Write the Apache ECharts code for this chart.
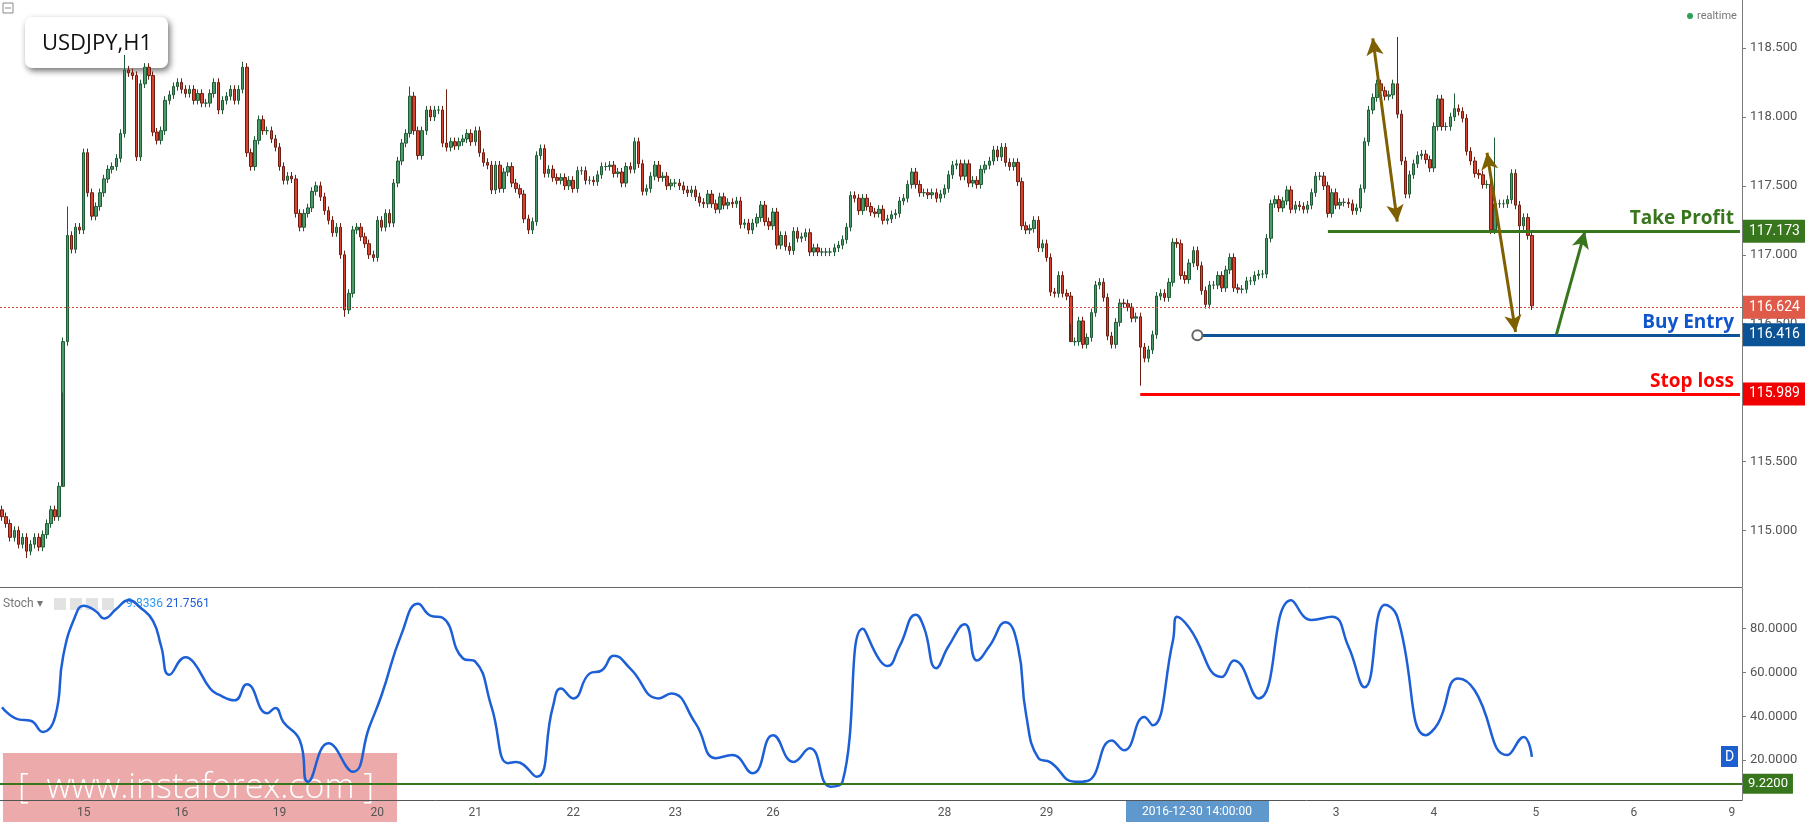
<!DOCTYPE html>
<html>
<head>
<meta charset="utf-8">
<title>USDJPY,H1</title>
<script src="https://cdn.jsdelivr.net/npm/echarts@6.0.0/dist/echarts.min.js"></script>
<style>
html,body{margin:0;padding:0;background:#fff;}
#main{width:1805px;height:822px;}
</style>
</head>
<body>
<div id="main"></div>
<script>
// hourly closes (candle opens = previous close)
var closes = [
115.1,115.05,114.95,115.0,114.9,114.95,114.85,114.9,114.95,114.88,114.97,115.05,115.15,115.1,115.32,
116.37,117.14,117.04,117.2,117.18,117.74,117.45,117.28,117.35,117.45,
117.55,117.62,117.64,117.7,117.88,118.34,118.32,118.3,117.71,118.24,
118.36,118.3,117.89,117.83,117.9,118.12,118.16,118.22,118.25,118.2,
118.17,118.2,118.12,118.17,118.1,118.1,118.17,118.25,118.05,118.12,
118.15,118.2,118.12,118.2,118.36,117.74,117.64,117.83,117.98,117.9,
117.9,117.84,117.78,117.64,117.54,117.57,117.55,117.3,117.2,117.3,
117.34,117.46,117.5,117.42,117.32,117.25,117.16,117.2,117.0,116.6,
116.72,117.18,117.2,117.13,117.08,117.0,116.98,117.25,117.2,117.3,
117.23,117.52,117.68,117.81,117.88,118.15,117.9,117.72,117.9,118.05,
118.0,118.05,118.05,117.81,117.78,117.82,117.79,117.82,117.84,117.88,
117.82,117.9,117.74,117.67,117.65,117.47,117.65,117.48,117.6,117.64,
117.52,117.48,117.44,117.26,117.18,117.24,117.72,117.77,117.59,117.62,
117.56,117.54,117.56,117.5,
117.54,117.48,117.61,117.61,117.54,117.54,117.53,117.58,117.64,117.64,
117.65,117.59,117.6,117.52,117.64,117.62,117.82,117.66,117.46,117.48,
117.57,117.65,117.56,117.57,117.5,117.52,117.52,117.5,117.47,117.45,
117.47,117.42,117.38,117.37,117.44,117.37,117.33,117.42,117.36,117.38,
117.37,117.39,117.22,117.23,117.18,117.23,117.27,117.36,117.24,117.21,
117.31,117.07,117.14,117.06,117.03,117.17,117.12,117.13,117.16,117.02,
117.05,117.02,117.02,117.02,117.02,117.05,117.07,117.11,117.2,117.43,
117.41,117.32,117.41,117.35,117.31,117.3,117.33,117.25,117.26,117.29,
117.3,117.39,117.41,
117.51,117.6,117.51,117.45,117.45,117.435,117.45,117.41,117.44,117.48,
117.58,117.65,117.66,117.57,117.66,117.52,117.54,117.51,117.62,117.65,
117.68,117.76,117.71,117.78,117.67,117.64,117.67,117.53,117.21,117.18,
117.19,117.25,117.05,117.08,116.98,116.73,116.72,116.85,116.72,116.7,
116.37,116.37,116.52,116.35,116.4,116.58,116.78,116.8,116.69,116.41,
116.35,116.51,116.65,116.645,116.62,116.54,116.55,116.33,116.25,116.31,
116.42,116.7,116.72,116.69,116.8,117.09,117.08,116.85,116.82,116.94,
117.03,116.92,116.74,116.64,116.78,116.78,116.85,116.76,116.89,116.98,
116.76,116.75,116.75,116.81,116.81,116.85,116.86,116.86,117.12,117.37,
117.4,117.34,117.39,117.47,117.33,117.36,117.35,117.33,117.36,117.45,
117.57,117.57,117.5,117.3,117.45,117.36,117.38,117.38,117.37,117.32,
117.34,117.48,117.82,118.05,118.14,118.24,118.19,118.15,118.16,118.24,
118.02,117.68,117.44,117.58,117.66,117.72,117.73,117.69,117.63,117.93,
118.13,117.93,117.93,118.0,118.06,118.04,117.99,117.75,117.68,117.59,
117.58,117.51,117.51,117.18,117.37,117.37,117.37,117.4,117.59,117.36,
117.21,117.27,117.14,116.63
];
var firstOpen = 115.15;
var wickSize = 0.03;
// long wicks that stick out: candle index -> price
var highSpikes = {16:117.35, 30:118.45, 59:118.4, 100:118.22, 109:118.2, 342:118.58, 356:118.17, 366:117.85};
var lowSpikes = {6:114.8, 15:116.0, 84:116.55, 262:116.5, 279:116.05, 372:116.55};

// stochastic %D, [candle index, value]
var stoch = [
[0,44.2],[4,38.6],[7,38],[10,32.9],[13,39.7],[15,67.7],[18,86],[20,90.5],[23,88],[25,84.7],[28,89],[31,93],
[34,89.5],[37,83.6],[39,72],[41,59],[45,67],[47,64.6],[51,52.7],[53,50],[57,47.3],[60,54.7],[65,41.4],[67,43.8],
[69,37.3],[73,29],[75,10.1],[80,27.7],[86,14.7],[90,35],[93,49.5],[98,78],[102,91.4],[105,86],[108,85],[113,66.4],
[116,65],[120,44.2],[124,18.6],[126,19.2],[131,12.4],[135,44.2],[137,52.7],[140,48.2],[144,59.5],[147,61],[150,67.7],
[154,61.8],[161,48.2],[164,50.4],[170,36.8],[175,20.9],[179,22.3],[184,14],[189,31.4],[194,19.2],[198,25.4],[203,7.9],
[206,10],[211,80],[215,66],[217,63],[220,72],[224,86.4],[226,80.5],[229,62],[232,72],[236,82],[239,65.5],[242,72],
[246,83],[249,72],[251,41],[254,21],[257,19],[263,10.1],[266,10.5],[272,29],[275,24.5],[280,39.7],[282,35.9],
[287,74.5],[288,85.5],[291,80.5],[299,58],[302,65.5],[308,48.2],[316,93],[321,84],[326,85.5],[330,72],[334,53.3],
[339,91],[342,85.5],[349,31.4],[352,36.8],[357,57.3],[361,51.8],[369,22.3],[373,30.6],[375,21.5]
];

var dayTickIdx = [20,44,68,92,116,140,165,189,231,256,327,351,376,400,424];
var dayTickText = ['15','16','19','20','21','22','23','26','28','29','3','4','5','6','9'];
var priceTicks = [115,115.5,116,116.5,117,117.5,118,118.5];
var stochTicks = [20,40,60,80];

var takeProfit = 117.173, buyEntry = 116.416, stopLoss = 115.989, lastPrice = 116.624, stochLevel = 9.22;
var totalSlots = 427;

var cats = [];
for (var i = 0; i < totalSlots; i++) cats.push(String(i));
var candles = [];
var prev = firstOpen;
for (var i = 0; i < closes.length; i++) {
    var o = prev, c = closes[i];
    var hi = highSpikes[i] !== undefined ? highSpikes[i] : Math.max(o, c) + wickSize;
    var lo = lowSpikes[i] !== undefined ? lowSpikes[i] : Math.min(o, c) - wickSize;
    candles.push([o, c, lo, hi]);
    prev = c;
}

function tag(bg, txt){
    return {show:true, position:'end', formatter:txt, color:'#fff', backgroundColor:bg, padding:[5,6,4,6], fontSize:14, fontFamily:'Roboto', distance:1};
}
function solid(color, w){ return {color:color, width:w, type:'solid'}; }
var hidden = {color:'rgba(0,0,0,0)', width:0, type:'solid'};
function tagLine(v, bg){ return {yAxis:v, lineStyle:hidden, label:tag(bg, v.toFixed(3))}; }
function levelLine(x0, v, color, textColor, name){
    return [{coord:[x0, v], lineStyle:solid(color, 3),
             label:{show:true, position:'insideEndTop', formatter:name, color:textColor, fontSize:19, fontWeight:'bold', fontFamily:'Open Sans', distance:[6,3]}},
            {coord:[426, v]}];
}
function arrowLine(p0, p1, color, both){
    return [{coord:p0, symbol:both ? 'arrow' : 'none', symbolSize:[13,17], lineStyle:solid(color, 3), label:{show:false}},
            {coord:p1, symbol:'arrow', symbolSize:[13,17]}];
}
var axisGray = '#7a7a7a';

var chart = echarts.init(document.getElementById('main'));
chart.setOption({
    animation:false,
    grid:[
        {left:0, right:63, top:0, height:587},
        {left:0, right:63, top:588, height:212}
    ],
    xAxis:[
        {type:'category', gridIndex:0, data:cats, show:false},
        {type:'category', gridIndex:1, data:cats,
         axisLine:{lineStyle:{color:'#555'}},
         axisTick:{interval:function(i){return dayTickIdx.indexOf(i)>=0;}, length:4, lineStyle:{color:'#555'}},
         axisLabel:{interval:function(i){return dayTickIdx.indexOf(i)>=0;}, color:'#555', fontSize:12, fontFamily:'Roboto', margin:7,
            formatter:function(v){var k=dayTickIdx.indexOf(+v);return k>=0?dayTickText[k]:'';}}}
    ],
    yAxis:[
        {type:'value', gridIndex:0, position:'right', min:114.59, max:118.848, splitLine:{show:false},
         axisLine:{show:true, lineStyle:{color:axisGray}},
         axisTick:{show:true, customValues:priceTicks, length:4, lineStyle:{color:axisGray}},
         axisLabel:{customValues:priceTicks, color:'#555', fontSize:13, fontFamily:'Roboto', margin:8,
            formatter:function(v){return v.toFixed(3);}}},
        {type:'value', gridIndex:1, position:'right', min:1.8, max:98.6, splitLine:{show:false},
         axisLine:{show:true, lineStyle:{color:axisGray}},
         axisTick:{show:true, customValues:stochTicks, length:4, lineStyle:{color:axisGray}},
         axisLabel:{customValues:stochTicks, color:'#555', fontSize:13, fontFamily:'Roboto', margin:8,
            formatter:function(v){return v.toFixed(4);}}}
    ],
    series:[
        {type:'candlestick', xAxisIndex:0, yAxisIndex:0, data:candles, barWidth:3,
         itemStyle:{color:'#4c9a69', color0:'#d8432f', borderColor:'#1f5b34', borderColor0:'#701d12', borderWidth:1},
         markLine:{silent:true, symbol:'none', animation:false,
            data:[
                {yAxis:lastPrice, lineStyle:{color:'#d9503f', type:[2,2], width:1}, label:tag('#df5a49', lastPrice.toFixed(3))},
                tagLine(takeProfit, '#38761d'),
                tagLine(buyEntry, '#0b5394'),
                tagLine(stopLoss, '#f00000'),
                levelLine(325, takeProfit, '#38761d', '#38761d', 'Take Profit'),
                levelLine(294, buyEntry, '#0b5394', '#1155cc', 'Buy Entry'),
                levelLine(279, stopLoss, '#ff0000', '#ff0000', 'Stop loss'),
                arrowLine([336.3,118.57], [342.4,117.24], '#7f6000', true),
                arrowLine([364.3,117.74], [371.2,116.44], '#7f6000', true),
                arrowLine([380.8,116.42], [387.7,117.17], '#38761d', false)
            ]},
         markPoint:{silent:true, animation:false, label:{show:false},
            data:[{coord:[292.5,buyEntry], symbol:'circle', symbolSize:10, itemStyle:{color:'#fff', borderColor:'#666', borderWidth:2}}]}
        },
        {type:'line', xAxisIndex:1, yAxisIndex:1, data:stoch, smooth:0.5, showSymbol:false,
         lineStyle:{color:'#1c5fd6', width:2.5},
         markLine:{silent:true, symbol:'none', animation:false,
            data:[{yAxis:stochLevel, lineStyle:solid('#38761d', 2),
                   label:{show:true, position:'end', formatter:'9.2200', color:'#fff', backgroundColor:'#38761d', padding:[4,5,3,5], fontSize:13, fontFamily:'Roboto', distance:1}}]}
        }
    ],
    graphic:[
        {type:'line', shape:{x1:0, y1:587.5, x2:1742, y2:587.5}, style:{stroke:'#666', lineWidth:1}},
        {type:'rect', shape:{x:3, y:3, width:10, height:10}, style:{fill:'#fff', stroke:'#888', lineWidth:1}},
        {type:'line', shape:{x1:5, y1:8, x2:11, y2:8}, style:{stroke:'#888', lineWidth:1}},
        {type:'rect', shape:{x:25, y:17, width:143, height:51, r:7},
         style:{fill:'#fff', shadowBlur:6, shadowOffsetX:2, shadowOffsetY:3, shadowColor:'rgba(0,0,0,0.55)'}},
        {type:'text', x:42, y:44, style:{text:'USDJPY,H1', font:'22px "Open Sans"', fill:'#111', verticalAlign:'middle'}},
        {type:'circle', shape:{cx:1690, cy:16, r:3}, style:{fill:'#2e9e5b'}},
        {type:'text', x:1697, y:16, style:{text:'realtime', font:'11px Roboto', fill:'#777', verticalAlign:'middle'}},
        {type:'text', x:3, y:604, style:{text:'Stoch ▾', font:'12px Roboto', fill:'#777', verticalAlign:'middle'}},
        {type:'rect', shape:{x:54, y:598, width:12, height:12}, style:{fill:'#e2e2e2'}},
        {type:'rect', shape:{x:70, y:598, width:12, height:12}, style:{fill:'#e2e2e2'}},
        {type:'rect', shape:{x:86, y:598, width:12, height:12}, style:{fill:'#e2e2e2'}},
        {type:'rect', shape:{x:102, y:598, width:12, height:12}, style:{fill:'#e2e2e2'}},
        {type:'text', x:126, y:604, style:{text:'9.8336', font:'12px Roboto', fill:'#2b9af3', verticalAlign:'middle'}},
        {type:'text', x:166, y:604, style:{text:'21.7561', font:'12px Roboto', fill:'#1c5fd6', verticalAlign:'middle'}},
        {type:'rect', shape:{x:1721, y:746, width:17, height:21}, style:{fill:'#1e5fd0'}},
        {type:'text', x:1729.5, y:757, style:{text:'D', font:'14px Roboto', fill:'#fff', align:'center', verticalAlign:'middle'}},
        {type:'rect', shape:{x:1126, y:800, width:143, height:22}, style:{fill:'#5f98cc'}},
        {type:'text', x:1197, y:812, style:{text:'2016-12-30 14:00:00', font:'12px Roboto', fill:'#fff', align:'center', verticalAlign:'middle'}},
        {type:'rect', shape:{x:3, y:753, width:394, height:69}, style:{fill:'rgba(220,100,100,0.55)'}},
        {type:'text', x:18, y:788, style:{text:'[  www.instaforex.com ]', font:'300 34px "Open Sans"', fill:'#fff', verticalAlign:'middle'}}
    ]
});
</script>
</body>
</html>
